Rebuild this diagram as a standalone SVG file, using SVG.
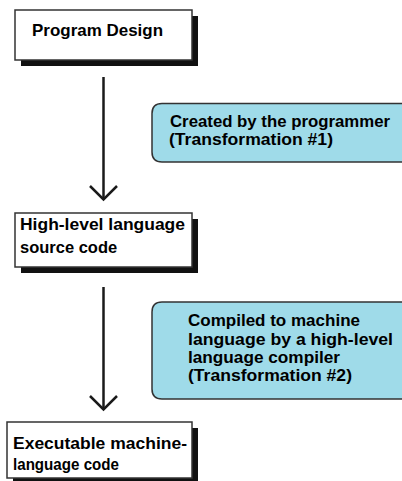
<svg xmlns="http://www.w3.org/2000/svg" width="402" height="481" viewBox="0 0 402 481">
<style>
.shadow{fill:#111;}
.box{fill:#fff;stroke:#333;stroke-width:1.5;}
.call{fill:#9fdbe9;stroke:#333;stroke-width:1.5;}
.t{font-family:"Liberation Sans",Arial,sans-serif;font-weight:bold;font-size:16.5px;fill:#000;}
.conn{stroke:#1a1a1a;stroke-width:2.5;fill:none;}
</style>
<rect width="402" height="481" fill="#fff"/>
<g id="connectors">
<line class="conn" x1="103.5" y1="77" x2="103.5" y2="199"/>
<polyline class="conn" points="90,186 103.5,199.5 117,186"/>
<line class="conn" x1="103.5" y1="287" x2="103.5" y2="409"/>
<polyline class="conn" points="90,396 103.5,409.5 117,396"/>
</g>
<g id="program-design">
<rect class="shadow" x="21" y="16" width="177" height="50"/>
<rect class="box" x="15" y="10" width="177" height="50"/>
<text class="t" x="32" y="36" textLength="131" lengthAdjust="spacingAndGlyphs">Program Design</text>
</g>
<g id="source-code">
<rect class="shadow" x="21" y="219" width="177" height="54"/>
<rect class="box" x="15" y="213" width="177" height="54"/>
<text class="t" x="20" y="230" textLength="165" lengthAdjust="spacingAndGlyphs">High-level language</text>
<text class="t" x="20" y="253">source code</text>
</g>
<g id="machine-code">
<rect class="shadow" x="13" y="428" width="185" height="56"/>
<rect class="box" x="7" y="422" width="185" height="56"/>
<text class="t" x="13" y="449" textLength="174" lengthAdjust="spacingAndGlyphs">Executable machine-</text>
<text class="t" x="13" y="470" textLength="106" lengthAdjust="spacingAndGlyphs">language code</text>
</g>
<g id="transformation-1">
<path class="call" d="M412,103.5 H162 Q152,103.5 152,113.5 V152 Q152,162 162,162 H412"/>
<text class="t" x="170" y="127" textLength="220" lengthAdjust="spacingAndGlyphs">Created by the programmer</text>
<text class="t" x="169" y="145" textLength="164" lengthAdjust="spacingAndGlyphs">(Transformation #1)</text>
</g>
<g id="transformation-2">
<path class="call" d="M412,302 H162 Q152,302 152,312 V389 Q152,399 162,399 H412"/>
<text class="t" x="188" y="326" textLength="172" lengthAdjust="spacingAndGlyphs">Compiled to machine</text>
<text class="t" x="188" y="344.5" textLength="205" lengthAdjust="spacingAndGlyphs">language by a high-level</text>
<text class="t" x="188" y="363" textLength="152" lengthAdjust="spacingAndGlyphs">language compiler</text>
<text class="t" x="188" y="381" textLength="164" lengthAdjust="spacingAndGlyphs">(Transformation #2)</text>
</g>
</svg>
